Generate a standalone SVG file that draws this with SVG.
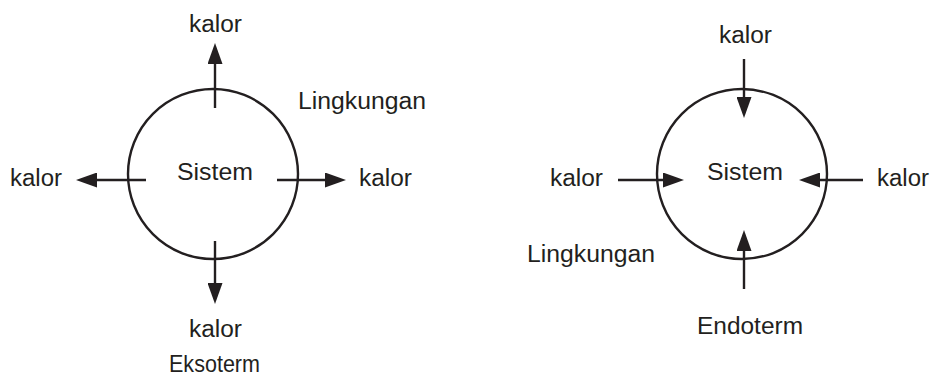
<svg xmlns="http://www.w3.org/2000/svg" width="931" height="373" viewBox="0 0 931 373">
<style>
.c{fill:none;stroke:#231f20;stroke-width:2.4}
.a{stroke:#231f20;stroke-width:2.4;fill:none;marker-end:url(#ah)}
text{font-family:"Liberation Sans",Arial,sans-serif;fill:#231f20}
.k{font-size:23px}
.s{font-size:24px}
</style>
<defs>
<marker id="ah" markerUnits="userSpaceOnUse" markerWidth="21" markerHeight="15" refX="11" refY="7.5" orient="auto">
<path d="M0,0 L21,7.5 L0,15 Z" fill="#231f20"/>
</marker>
</defs>
<rect width="931" height="373" fill="#fff"/>
<g id="eksoterm-system">
<circle class="c" cx="213" cy="174" r="85"/>
<text class="s" x="177" y="180" textLength="76" lengthAdjust="spacingAndGlyphs">Sistem</text>
</g>
<g id="eksoterm-labels">
<text class="k" x="189" y="32" textLength="53" lengthAdjust="spacingAndGlyphs">kalor</text>
<text class="k" x="10" y="186" textLength="52" lengthAdjust="spacingAndGlyphs">kalor</text>
<text class="k" x="359" y="186" textLength="53" lengthAdjust="spacingAndGlyphs">kalor</text>
<text class="k" x="189" y="337" textLength="53" lengthAdjust="spacingAndGlyphs">kalor</text>
<text class="k" x="298" y="109" textLength="128" lengthAdjust="spacingAndGlyphs">Lingkungan</text>
<text style="font-size:24px" x="169" y="372" textLength="91" lengthAdjust="spacingAndGlyphs">Eksoterm</text>
</g>
<g id="endoterm-system">
<circle class="c" cx="742" cy="174" r="85"/>
<text class="s" x="707" y="180" textLength="76" lengthAdjust="spacingAndGlyphs">Sistem</text>
</g>
<g id="endoterm-labels">
<text class="k" x="719" y="43" textLength="53" lengthAdjust="spacingAndGlyphs">kalor</text>
<text class="k" x="550" y="186" textLength="53" lengthAdjust="spacingAndGlyphs">kalor</text>
<text class="k" x="877" y="186" textLength="52" lengthAdjust="spacingAndGlyphs">kalor</text>
<text class="k" x="527" y="262" textLength="128" lengthAdjust="spacingAndGlyphs">Lingkungan</text>
<text class="k" x="697" y="334" textLength="106" lengthAdjust="spacingAndGlyphs">Endoterm</text>
</g>
<g id="connectors">
<line class="a" x1="215" y1="108" x2="215" y2="53"/>
<line class="a" x1="146" y1="180" x2="86" y2="180"/>
<line class="a" x1="277" y1="180" x2="336" y2="180"/>
<line class="a" x1="215" y1="241" x2="215" y2="294"/>
<line class="a" x1="744" y1="59" x2="744" y2="108"/>
<line class="a" x1="618" y1="180" x2="674" y2="180"/>
<line class="a" x1="863" y1="180" x2="809" y2="180"/>
<line class="a" x1="744" y1="289" x2="744" y2="240"/>
</g>
</svg>
